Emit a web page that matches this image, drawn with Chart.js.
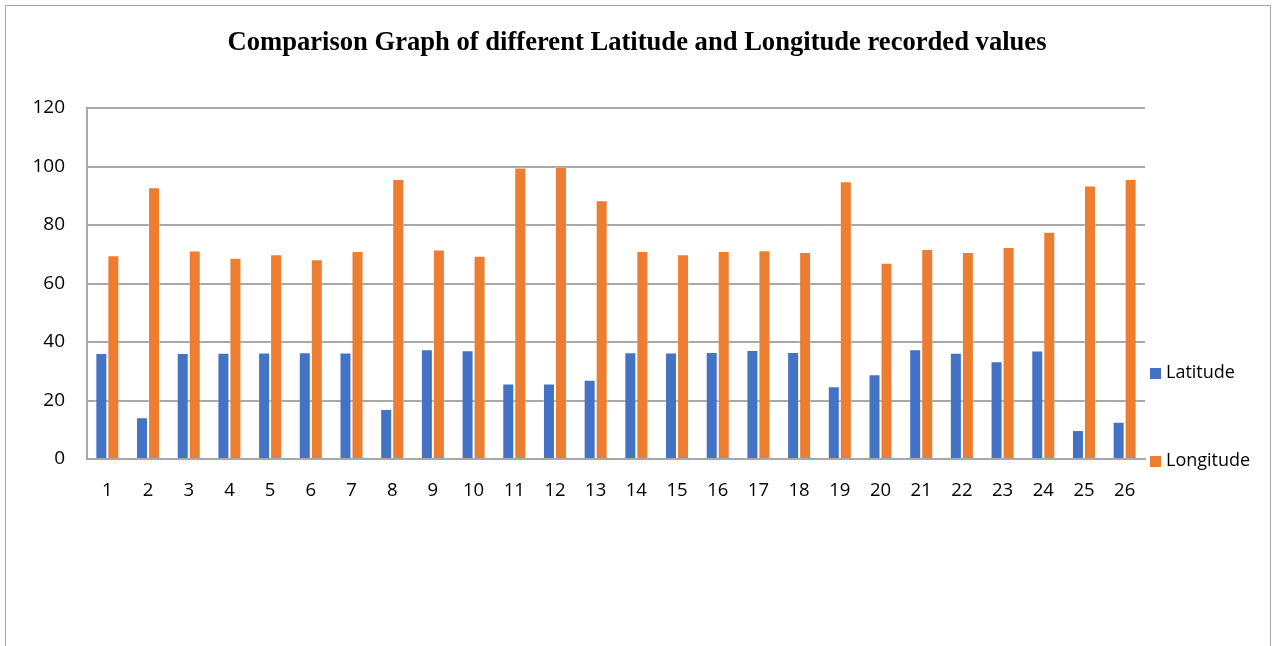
<!DOCTYPE html>
<html>
<head>
<meta charset="utf-8">
<script src="https://cdn.jsdelivr.net/npm/chart.js@4"></script>
<style>
  html, body { margin: 0; padding: 0; background: #fff; }
  #frame { position: absolute; left: 5px; top: 5px; width: 1264px; height: 700px; border: 1px solid #a6a6a6; }
  #wrap { position: absolute; left: 0; top: 0; width: 1274px; height: 646px; }
</style>
</head>
<body>
<div id="frame"></div>
<div id="wrap"><canvas id="chart" width="1274" height="646"></canvas></div>
<script>
// values
const labels = ['1','2','3','4','5','6','7','8','9','10','11','12','13','14','15','16','17','18','19','20','21','22','23','24','25','26'];
const latitude = [36.2, 14.3, 36.2, 36.3, 36.4, 36.5, 36.4, 17.1, 37.5, 37.2, 25.8, 25.8, 27.1, 36.5, 36.4, 36.6, 37.3, 36.6, 24.9, 29.0, 37.5, 36.3, 33.4, 37.1, 9.9, 12.7];
const longitude = [69.7, 92.9, 71.3, 68.8, 70.0, 68.3, 71.1, 95.7, 71.6, 69.5, 99.7, 99.9, 88.5, 71.1, 70.0, 71.1, 71.4, 70.8, 95.0, 67.1, 71.8, 70.8, 72.5, 77.7, 93.5, 95.7];
const yTicks = [0, 20, 40, 60, 80, 100, 120];
const titleText = 'Comparison Graph of different Latitude and Longitude recorded values';

const blue = '#4472c4';
const orange = '#ed7d31';
const gridColor = '#a8a8a8';
const sansFont = '"Open Sans", sans-serif';

// title is centred on the whole frame, not on the plot
const frameTitle = {
  id: 'frameTitle',
  afterDraw(chart) {
    const ctx = chart.ctx;
    ctx.save();
    ctx.font = 'bold 26.6px "Liberation Serif", "Times New Roman", serif';
    ctx.fillStyle = '#000';
    ctx.textAlign = 'center';
    ctx.textBaseline = 'alphabetic';
    ctx.fillText(titleText, chart.width / 2, 50);
    ctx.restore();
  }
};

// legend drawn at the right of the plot, spaced like the original
const sideLegend = {
  id: 'sideLegend',
  afterDraw(chart) {
    const ctx = chart.ctx;
    const area = chart.chartArea;
    const rows = [373, 461];
    ctx.save();
    ctx.font = '18px ' + sansFont;
    ctx.textBaseline = 'middle';
    ctx.textAlign = 'left';
    chart.data.datasets.forEach((ds, i) => {
      const y = rows[i];
      ctx.fillStyle = ds.backgroundColor;
      ctx.fillRect(area.right + 5, y - 5, 11, 11);
      ctx.fillStyle = '#000';
      ctx.fillText(ds.label, area.right + 21, y);
    });
    ctx.restore();
  }
};

new Chart(document.getElementById('chart'), {
  type: 'bar',
  data: {
    labels: labels,
    datasets: [
      { label: 'Latitude', data: latitude, backgroundColor: blue, borderColor: 'rgba(255,255,255,0.25)', borderWidth: 1, categoryPercentage: 0.59, barPercentage: 1 },
      { label: 'Longitude', data: longitude, backgroundColor: orange, borderColor: 'rgba(255,255,255,0.25)', borderWidth: 1, categoryPercentage: 0.59, barPercentage: 1 }
    ]
  },
  options: {
    responsive: false,
    animation: false,
    layout: { padding: { left: 0, right: 129, top: 108, bottom: 147 } },
    plugins: {
      legend: { display: false },
      tooltip: { enabled: false },
      title: { display: false }
    },
    scales: {
      x: {
        grid: { display: false, drawTicks: false },
        border: { display: true, color: gridColor, width: 2 },
        ticks: { color: '#000', font: { family: sansFont, size: 18.5 }, padding: 21, maxRotation: 0, autoSkip: false },
        afterFit(s) { s.height = 40; }
      },
      y: {
        min: 0,
        max: 120,
        afterBuildTicks(s) { s.ticks = yTicks.map(v => ({ value: v })); },
        grid: { color: gridColor, lineWidth: 2, drawTicks: false },
        border: { display: true, color: gridColor, width: 2 },
        ticks: { color: '#000', font: { family: sansFont, size: 19 }, padding: 22 },
        afterFit(s) { s.width = 87; }
      }
    }
  },
  plugins: [frameTitle, sideLegend]
});
</script>
</body>
</html>
